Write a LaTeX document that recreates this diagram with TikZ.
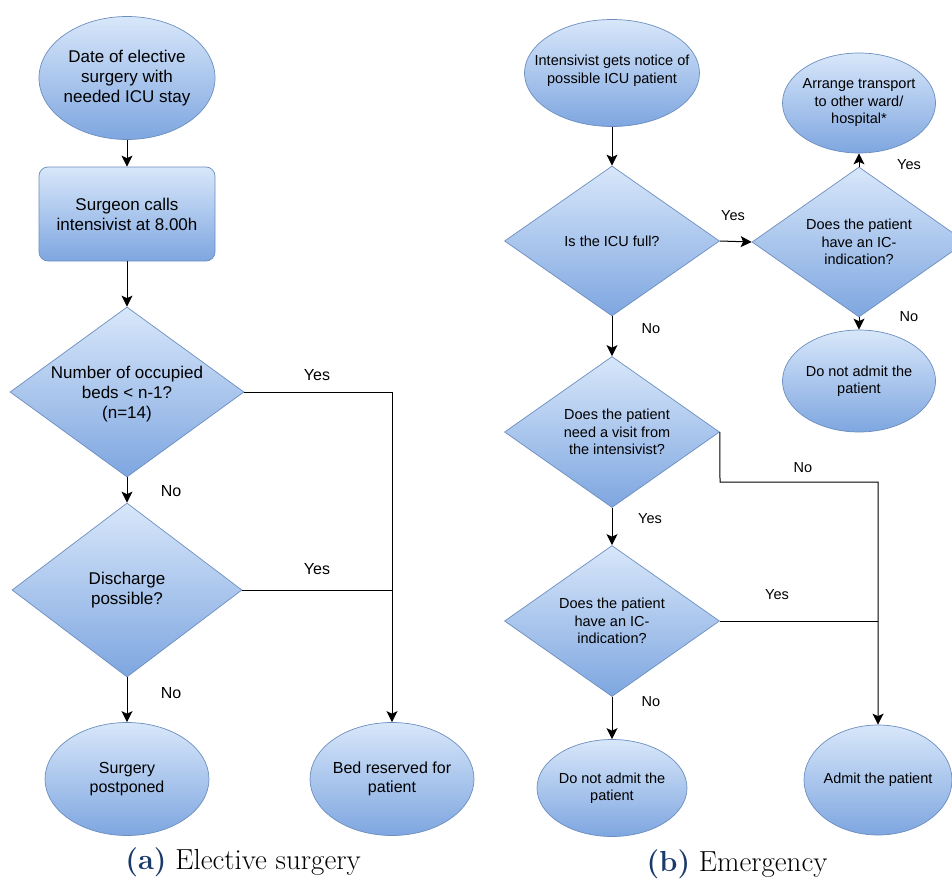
\documentclass[tikz,border=0pt]{standalone}
\usepackage{fontspec}
\newfontfamily\helv{Liberation Sans}
\usetikzlibrary{shapes.geometric,arrows.meta}
\definecolor{fillTop}{HTML}{D8E7FA}
\definecolor{fillBot}{HTML}{7EA6E0}
\definecolor{edgeBlue}{HTML}{6C8EBF}
\definecolor{capBlue}{HTML}{1B3A6B}

\begin{document}
\begin{tikzpicture}[x=1pt,y=-1pt,
  shapebase/.style={draw=edgeBlue, line width=0.7pt, top color=fillTop, bottom color=fillBot, inner sep=0pt},
  oval/.style={shapebase, ellipse},
  rhomb/.style={shapebase, diamond},
  roundbox/.style={shapebase, rectangle, rounded corners=9pt},
  tbig/.style={font=\helv\fontsize{17}{20}\selectfont, align=center, inner sep=0pt},
  tmid/.style={font=\helv\fontsize{16}{18.5}\selectfont, align=center, inner sep=0pt},
  tsmall/.style={font=\helv\fontsize{14.5}{17.5}\selectfont, align=center, inner sep=0pt},
  ansL/.style={font=\helv\fontsize{16}{18}\selectfont, inner sep=0pt},
  ansR/.style={font=\helv\fontsize{14.5}{17}\selectfont, inner sep=0pt},
  arr/.style={-{Stealth[length=11pt,width=11pt,inset=2.5pt]}, line width=1pt},
  link/.style={line width=1pt},
  caption/.style={font=\fontsize{29}{34}\selectfont, inner sep=0pt}
]
\useasboundingbox (0,0) rectangle (952,880);
\clip (0,0) rectangle (952,880);

% ---------- (a) Elective surgery ----------
\node[oval, minimum width=176pt, minimum height=123pt,
  label={[tbig]center:{Date of elective\\surgery with\\needed ICU stay}}] (date) at (127,78) {};
\node[roundbox, minimum width=176pt, minimum height=94pt,
  label={[tbig]center:{Surgeon calls\\intensivist at 8.00h}}] (call) at (127,214) {};
\node[rhomb, minimum width=234pt, minimum height=170pt,
  label={[tbig, yshift=-2pt]center:{Number of occupied\\beds < n-1?\\(n=14)}}] (beds) at (127,392) {};
\node[rhomb, minimum width=230pt, minimum height=174pt,
  label={[tbig]center:{Discharge\\possible?}}] (disc) at (127,590) {};
\node[oval, minimum width=164pt, minimum height=113pt,
  label={[tmid]center:{Surgery\\postponed}}] (post) at (127,779) {};
\node[oval, minimum width=164pt, minimum height=113pt,
  label={[tmid]center:{Bed reserved for\\patient}}] (resv) at (392,779) {};

\draw[arr] (date) -- (call);
\draw[arr] (call) -- (beds);
\draw[arr] (beds) -- (disc);
\draw[arr] (disc) -- (post);
\draw[arr] (beds.east) -| (resv.north);
\draw[link] (disc.east) -- (disc.east -| resv.north);

\node[ansL] (yesA1) at (317,375) {Yes};
\node[ansL] (yesA2) at (317,569) {Yes};
\node[ansL] (noA1) at (171,491) {No};
\node[ansL] (noA2) at (171,693) {No};

% ---------- (b) Emergency ----------
\node[oval, minimum width=175pt, minimum height=107pt,
  label={[tsmall, yshift=2pt]center:{Intensivist gets notice of\\possible ICU patient}}] (notice) at (612,73) {};
\node[rhomb, minimum width=215pt, minimum height=150pt,
  label={[tsmall]center:{Is the ICU full?}}] (full) at (612,241) {};
\node[rhomb, minimum width=214pt, minimum height=150pt,
  label={[tsmall]center:{Does the patient\\have an IC-\\indication?}}] (indA) at (859,242) {};
\node[oval, minimum width=153pt, minimum height=100pt,
  label={[tsmall]center:{Arrange transport\\to other ward/\\hospital*}}] (trans) at (859,103) {};
\node[oval, minimum width=153pt, minimum height=102pt,
  label={[tsmall]center:{Do not admit the\\patient}}] (noadmA) at (859,381) {};
\node[rhomb, minimum width=215pt, minimum height=151pt,
  label={[tsmall, xshift=5pt]center:{Does the patient\\need a visit from\\the intensivist?}}] (visit) at (612,432) {};
\node[rhomb, minimum width=215pt, minimum height=151pt,
  label={[tsmall]center:{Does the patient\\have an IC-\\indication?}}] (indB) at (612,621) {};
\node[oval, minimum width=150pt, minimum height=97pt,
  label={[tsmall]center:{Do not admit the\\patient}}] (noadmB) at (612,788) {};
\node[oval, minimum width=148pt, minimum height=110pt,
  label={[tsmall]center:{Admit the patient}}] (admit) at (878,780) {};

\coordinate (visitTurn) at (720,482);

\draw[arr] (notice) -- (full);
\draw[arr] (full.east) -- (indA.west);
\draw[arr] (indA.north) -- (trans.south);
\draw[arr] (indA.south) -- (noadmA.north);
\draw[arr] (full.south) -- (visit.north);
\draw[arr] (visit.south) -- (indB.north);
\draw[arr] (indB.south) -- (noadmB.north);
\draw[arr] (visit.east) -- (visitTurn) -| (admit.north);
\draw[link] (indB.east) -- (indB.east -| admit.north);

\node[ansR] (yesB1) at (733,216) {Yes};
\node[ansR] (yesB2) at (909,165) {Yes};
\node[ansR] (noB1) at (909,317) {No};
\node[ansR] (noB2) at (651,329) {No};
\node[ansR] (noB3) at (803,468) {No};
\node[ansR] (yesB3) at (650,519) {Yes};
\node[ansR] (yesB4) at (777,595) {Yes};
\node[ansR] (noB4) at (651,702) {No};

% ---------- captions ----------
\node[caption] (capA) at (243,862) {\textcolor{capBlue}{\textbf{(a)}} Elective surgery};
\node[caption] (capB) at (737,864) {\textcolor{capBlue}{\textbf{(b)}} Emergency};
\end{tikzpicture}
\end{document}
